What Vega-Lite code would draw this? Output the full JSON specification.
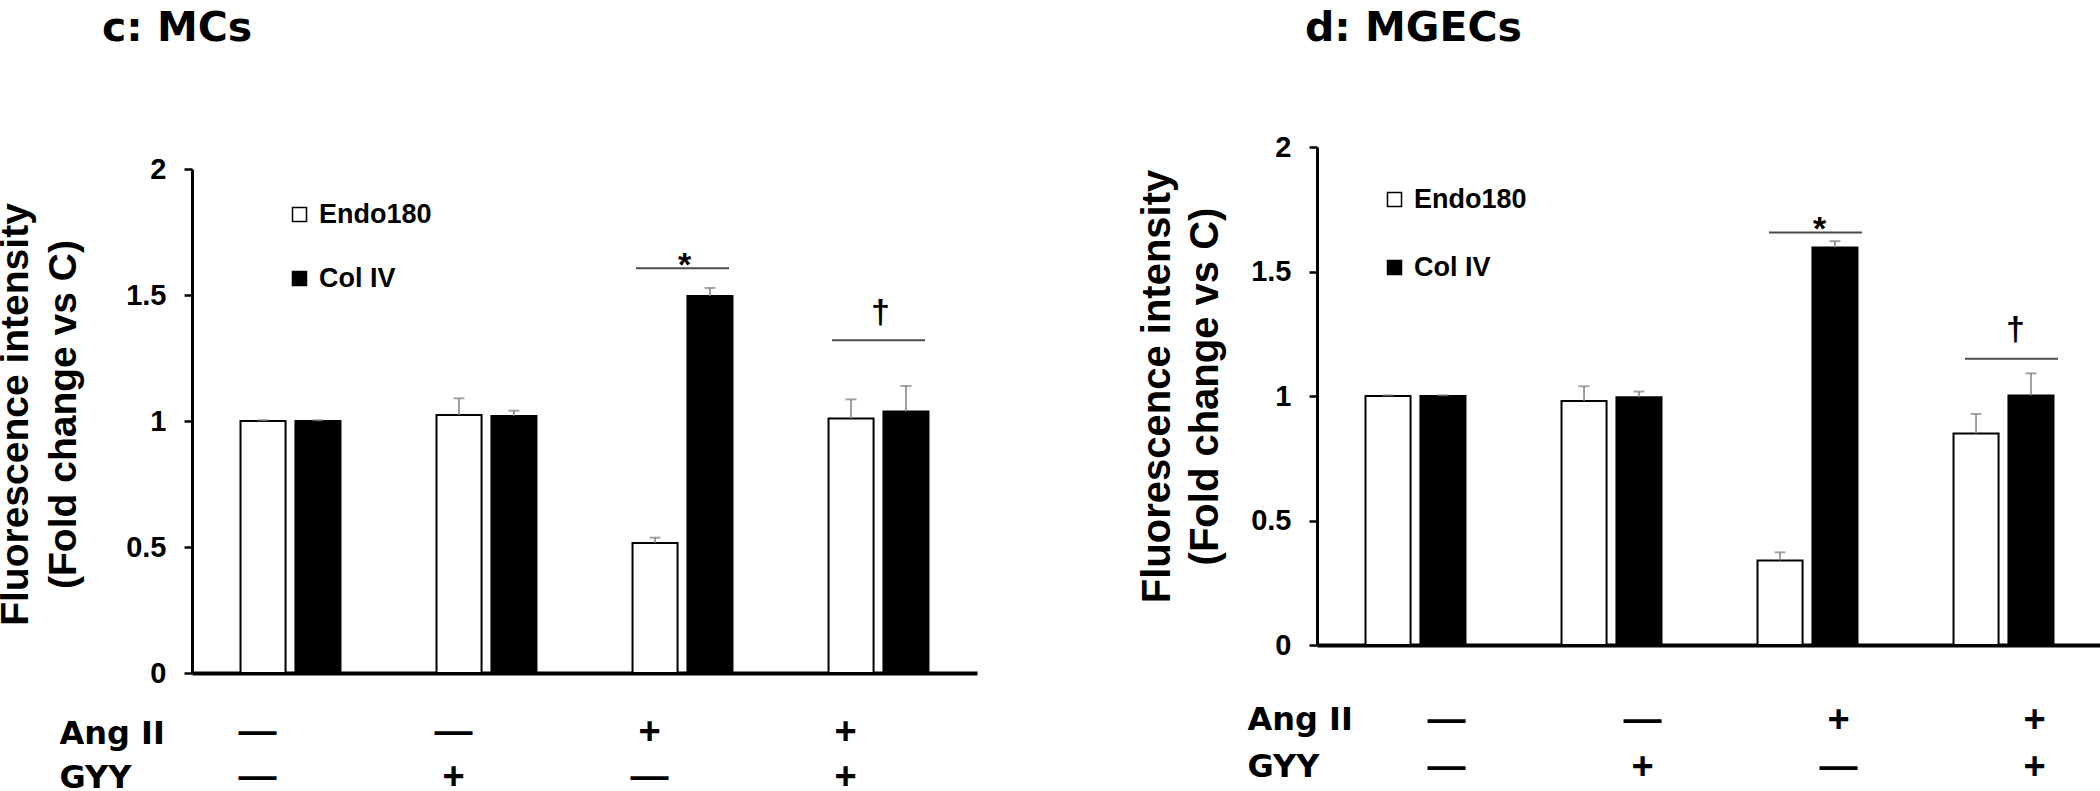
{
  "$schema": "https://vega.github.io/schema/vega-lite/v6.json",
  "padding": {"top": 8, "left": -4, "right": 0, "bottom": 0},
  "background": "white",
  "spacing": 160,
  "datasets": {
    "bars": [
      {"panel": "MCs", "cond": "—|—", "series": "Endo180", "value": 1.0, "hi": 1.003},
      {"panel": "MCs", "cond": "—|—", "series": "Col IV", "value": 1.0, "hi": 1.003},
      {"panel": "MCs", "cond": "—|+", "series": "Endo180", "value": 1.024, "hi": 1.090},
      {"panel": "MCs", "cond": "—|+", "series": "Col IV", "value": 1.020, "hi": 1.041},
      {"panel": "MCs", "cond": "+|—", "series": "Endo180", "value": 0.516, "hi": 0.537},
      {"panel": "MCs", "cond": "+|—", "series": "Col IV", "value": 1.496, "hi": 1.528},
      {"panel": "MCs", "cond": "+|+", "series": "Endo180", "value": 1.010, "hi": 1.086},
      {"panel": "MCs", "cond": "+|+", "series": "Col IV", "value": 1.038, "hi": 1.139},
      {"panel": "MGECs", "cond": "—|—", "series": "Endo180", "value": 1.0, "hi": 1.003},
      {"panel": "MGECs", "cond": "—|—", "series": "Col IV", "value": 1.0, "hi": 1.003},
      {"panel": "MGECs", "cond": "—|+", "series": "Endo180", "value": 0.980, "hi": 1.039},
      {"panel": "MGECs", "cond": "—|+", "series": "Col IV", "value": 0.995, "hi": 1.018},
      {"panel": "MGECs", "cond": "+|—", "series": "Endo180", "value": 0.339, "hi": 0.372},
      {"panel": "MGECs", "cond": "+|—", "series": "Col IV", "value": 1.596, "hi": 1.622},
      {"panel": "MGECs", "cond": "+|+", "series": "Endo180", "value": 0.849, "hi": 0.928},
      {"panel": "MGECs", "cond": "+|+", "series": "Col IV", "value": 1.002, "hi": 1.091}
    ],
    "sig": [
      {"panel": "MCs", "cond": "+|—", "sym": "*", "lineY": 1.606, "ty": 1.576},
      {"panel": "MCs", "cond": "+|+", "sym": "†", "lineY": 1.320, "ty": 1.388},
      {"panel": "MGECs", "cond": "+|—", "sym": "*", "lineY": 1.657, "ty": 1.627},
      {"panel": "MGECs", "cond": "+|+", "sym": "†", "lineY": 1.150, "ty": 1.224}
    ]
  },
  "resolve": {
    "scale": {"fill": "independent", "x": "independent", "y": "independent", "xOffset": "independent"},
    "legend": {"fill": "independent"}
  },
  "hconcat": [
    {
      "width": 785,
      "height": 504,
      "title": {"text": "c: MCs", "anchor": "start", "frame": "group", "dx": -90, "offset": 73, "baseline": "alphabetic", "font": "DejaVu Sans", "fontWeight": "bold", "fontSize": 41, "color": "black"},
      "encoding": {
        "x": {
          "field": "cond", "type": "nominal",
          "scale": {"domain": ["—|—", "—|+", "+|—", "+|+"], "paddingInner": 0.49, "paddingOuter": 0.2475},
          "axis": {
            "title": ["Ang II", "GYY"], "labelExpr": "split(datum.label, '|')", "labelAngle": 0,
            "ticks": false, "tickSize": 0, "domainWidth": 4, "domainColor": "black",
            "labelFont": "Liberation Sans", "labelFontWeight": "bold", "labelFontSize": 38, "labelLineHeight": 45,
            "labelBaseline": "top", "labelPadding": 40, "labelOffset": -33, "labelColor": "black",
            "titleFont": "DejaVu Sans", "titleFontWeight": "bold", "titleFontSize": 32, "titleLineHeight": 44,
            "titleAngle": 0, "titleAlign": "left", "titleBaseline": "top", "titleX": -133, "titleY": 45, "titleColor": "black"
          }
        }
      },
      "layer": [
        {
          "data": {"name": "bars"},
          "transform": [{"filter": "datum.panel === 'MCs'"}],
          "mark": {"type": "bar", "stroke": "black", "strokeWidth": 2},
          "encoding": {
            "xOffset": {"field": "series", "type": "nominal", "scale": {"domain": ["Endo180", "Col IV"], "paddingInner": 0.18, "paddingOuter": 0}},
            "y": {
              "field": "value", "type": "quantitative",
              "scale": {"domain": [0, 2], "nice": false},
              "axis": {
                "title": ["Fluorescence intensity", "(Fold change vs C)"], "values": [0, 0.5, 1, 1.5, 2], "format": "~g",
                "grid": false, "domainWidth": 3, "domainColor": "black", "tickWidth": 2.5, "tickSize": 8, "tickColor": "black",
                "labelFont": "Liberation Sans", "labelFontWeight": "bold", "labelFontSize": 29, "labelPadding": 18, "labelColor": "black",
                "titleFont": "Liberation Sans", "titleFontWeight": "bold", "titleFontSize": 39, "titleLineHeight": 48,
                "titleAngle": 270, "titleAlign": "center", "titleBaseline": "alphabetic", "titleX": -165, "titleY": 245, "titleColor": "black"
              }
            },
            "fill": {
              "field": "series", "type": "nominal",
              "scale": {"domain": ["Endo180", "Col IV"], "range": ["white", "black"]},
              "legend": {
                "title": null, "orient": "none", "legendX": 94, "legendY": 32, "direction": "vertical",
                "symbolType": "square", "symbolSize": 196, "symbolStrokeColor": "black", "symbolStrokeWidth": 1.5,
                "labelFont": "Liberation Sans", "labelFontWeight": "bold", "labelFontSize": 27, "labelColor": "black",
                "labelOffset": 6, "rowPadding": 36,
                "encode": {"symbols": {"update": {"stroke": {"value": "black"}}}}
              }
            }
          }
        },
        {
          "data": {"name": "bars"},
          "transform": [{"filter": "datum.panel === 'MCs'"}],
          "mark": {"type": "rule", "color": "#808080", "strokeWidth": 1.5},
          "encoding": {
            "xOffset": {"field": "series", "type": "nominal"},
            "y": {"field": "value", "type": "quantitative"},
            "y2": {"field": "hi"}
          }
        },
        {
          "data": {"name": "bars"},
          "transform": [{"filter": "datum.panel === 'MCs'"}],
          "mark": {"type": "tick", "color": "#808080", "thickness": 2, "size": 11, "orient": "horizontal"},
          "encoding": {
            "xOffset": {"field": "series", "type": "nominal"},
            "y": {"field": "hi", "type": "quantitative"}
          }
        },
        {
          "data": {"name": "sig"},
          "transform": [{"filter": "datum.panel === 'MCs'"}],
          "mark": {"type": "tick", "color": "black", "thickness": 2, "size": 93, "orient": "horizontal"},
          "encoding": {
            "y": {"field": "lineY", "type": "quantitative"}
          }
        },
        {
          "data": {"name": "sig"},
          "transform": [{"filter": "datum.panel === 'MCs'"}],
          "mark": {"type": "text", "font": "Liberation Sans", "fontWeight": "bold", "fontSize": 34, "baseline": "alphabetic", "color": "black", "dx": 2},
          "encoding": {
            "y": {"field": "ty", "type": "quantitative"},
            "text": {"field": "sym"}
          }
        }
      ]
    },
    {
      "width": 785,
      "height": 476,
      "title": {"text": "d: MGECs", "anchor": "start", "frame": "group", "dx": -12, "offset": 51, "baseline": "alphabetic", "font": "DejaVu Sans", "fontWeight": "bold", "fontSize": 41, "color": "black"},
      "encoding": {
        "x": {
          "field": "cond", "type": "nominal",
          "scale": {"domain": ["—|—", "—|+", "+|—", "+|+"], "paddingInner": 0.49, "paddingOuter": 0.2475},
          "axis": {
            "title": ["Ang II", "GYY"], "labelExpr": "split(datum.label, '|')", "labelAngle": 0,
            "ticks": false, "tickSize": 0, "domainWidth": 4, "domainColor": "black",
            "labelFont": "Liberation Sans", "labelFontWeight": "bold", "labelFontSize": 38, "labelLineHeight": 47,
            "labelBaseline": "top", "labelPadding": 56, "labelOffset": 31, "labelColor": "black",
            "titleFont": "DejaVu Sans", "titleFontWeight": "bold", "titleFontSize": 32, "titleLineHeight": 47,
            "titleAngle": 0, "titleAlign": "left", "titleBaseline": "top", "titleX": -70, "titleY": 59, "titleColor": "black"
          }
        }
      },
      "layer": [
        {
          "data": {"name": "bars"},
          "transform": [{"filter": "datum.panel === 'MGECs'"}],
          "mark": {"type": "bar", "stroke": "black", "strokeWidth": 2},
          "encoding": {
            "xOffset": {"field": "series", "type": "nominal", "scale": {"domain": ["Endo180", "Col IV"], "paddingInner": 0.18, "paddingOuter": 0}},
            "y": {
              "field": "value", "type": "quantitative",
              "scale": {"domain": [0, 2], "nice": false, "range": [476, -22]},
              "axis": {
                "title": ["Fluorescence intensity", "(Fold change vs C)"], "values": [0, 0.5, 1, 1.5, 2], "format": "~g",
                "grid": false, "domainWidth": 3, "domainColor": "black", "tickWidth": 2.5, "tickSize": 8, "tickColor": "black",
                "labelFont": "Liberation Sans", "labelFontWeight": "bold", "labelFontSize": 29, "labelPadding": 18, "labelColor": "black",
                "titleFont": "Liberation Sans", "titleFontWeight": "bold", "titleFontSize": 40, "titleLineHeight": 48,
                "titleAngle": 270, "titleAlign": "center", "titleBaseline": "alphabetic", "titleX": -148, "titleY": 217, "titleColor": "black"
              }
            },
            "fill": {
              "field": "series", "type": "nominal",
              "scale": {"domain": ["Endo180", "Col IV"], "range": ["white", "black"]},
              "legend": {
                "title": null, "orient": "none", "legendX": 64, "legendY": 17, "direction": "vertical",
                "symbolType": "square", "symbolSize": 196, "symbolStrokeColor": "black", "symbolStrokeWidth": 1.5,
                "labelFont": "Liberation Sans", "labelFontWeight": "bold", "labelFontSize": 27, "labelColor": "black",
                "labelOffset": 6, "rowPadding": 40,
                "encode": {"symbols": {"update": {"stroke": {"value": "black"}}}}
              }
            }
          }
        },
        {
          "data": {"name": "bars"},
          "transform": [{"filter": "datum.panel === 'MGECs'"}],
          "mark": {"type": "rule", "color": "#808080", "strokeWidth": 1.5},
          "encoding": {
            "xOffset": {"field": "series", "type": "nominal"},
            "y": {"field": "value", "type": "quantitative"},
            "y2": {"field": "hi"}
          }
        },
        {
          "data": {"name": "bars"},
          "transform": [{"filter": "datum.panel === 'MGECs'"}],
          "mark": {"type": "tick", "color": "#808080", "thickness": 2, "size": 11, "orient": "horizontal"},
          "encoding": {
            "xOffset": {"field": "series", "type": "nominal"},
            "y": {"field": "hi", "type": "quantitative"}
          }
        },
        {
          "data": {"name": "sig"},
          "transform": [{"filter": "datum.panel === 'MGECs'"}],
          "mark": {"type": "tick", "color": "black", "thickness": 2, "size": 93, "orient": "horizontal", "xOffset": 8},
          "encoding": {
            "y": {"field": "lineY", "type": "quantitative"}
          }
        },
        {
          "data": {"name": "sig"},
          "transform": [{"filter": "datum.panel === 'MGECs'"}],
          "mark": {"type": "text", "font": "Liberation Sans", "fontWeight": "bold", "fontSize": 34, "baseline": "alphabetic", "color": "black", "dx": 12},
          "encoding": {
            "y": {"field": "ty", "type": "quantitative"},
            "text": {"field": "sym"}
          }
        }
      ]
    }
  ],
  "config": {
    "view": {"stroke": null},
    "axis": {"grid": false}
  }
}
